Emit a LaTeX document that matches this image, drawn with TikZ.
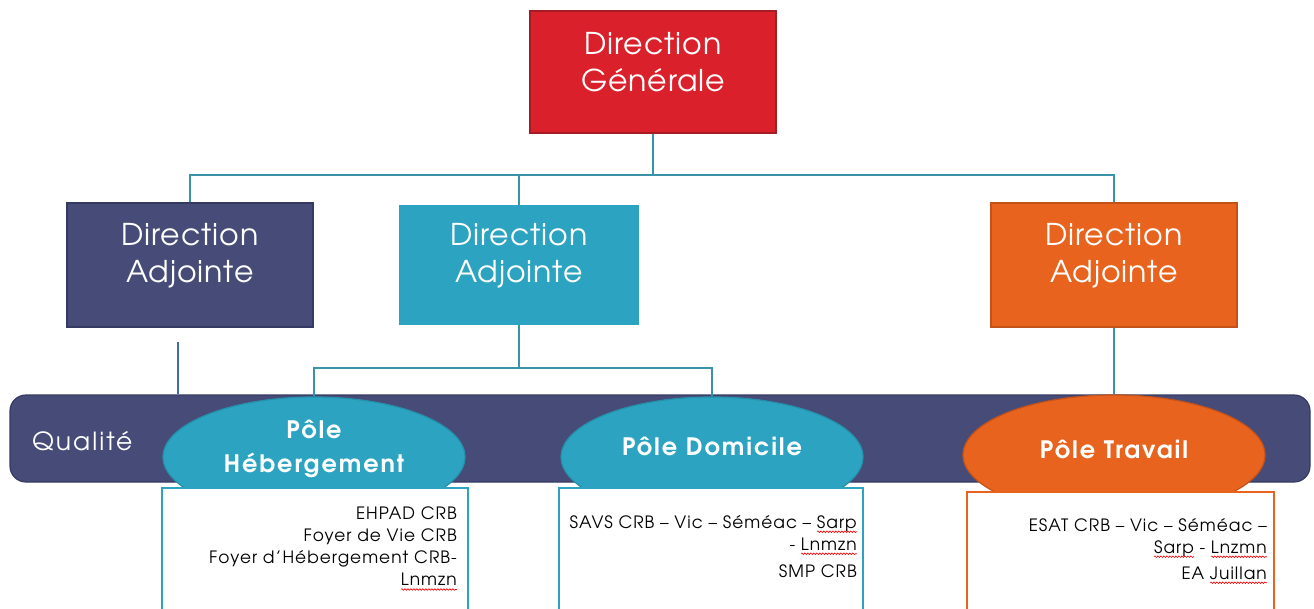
\documentclass[tikz,border=0pt]{standalone}
\usepackage{fontspec}
\setmainfont{texgyreadventor}[Extension=.otf, UprightFont=*-regular, BoldFont=*-bold, ItalicFont=*-italic, BoldItalicFont=*-bolditalic]
\usetikzlibrary{shapes.geometric,decorations.pathmorphing}
\definecolor{dgred}{HTML}{D9202B}
\definecolor{dgredd}{HTML}{A51D24}
\definecolor{slate}{HTML}{474B78}
\definecolor{slated}{HTML}{363A62}
\definecolor{teal}{HTML}{2CA3C0}
\definecolor{teald}{HTML}{2590AA}
\definecolor{orng}{HTML}{E8631E}
\definecolor{orngd}{HTML}{C2521A}
\definecolor{conn}{HTML}{3A93A8}
\definecolor{blueln}{HTML}{3F6DB0}
\newcommand\rw[1]{\setbox0=\hbox{#1}\rlap{\tikz[overlay, baseline=0pt, x=1pt, y=1pt]\draw[red, line width=0.6pt, decorate, decoration={snake, amplitude=0.8pt, segment length=3pt}] (0,-3.5) -- (\the\wd0,-3.5);}\box0\relax}
\tikzset{
  box/.style={rectangle, inner sep=0pt},
  bigtext/.style={text=white, align=center, font=\fontsize{30}{37}\selectfont\addfontfeature{LetterSpace=3}, inner sep=0pt},
  poletext/.style={text=white, align=center, font=\bfseries\fontsize{24}{34}\selectfont\addfontfeature{LetterSpace=8}, inner sep=0pt},
  listtext/.style={text=black, align=right, font=\fontsize{17}{22}\selectfont\addfontfeature{LetterSpace=6}, inner sep=0pt},
  pole/.style={ellipse, inner sep=0pt, minimum width=302pt, minimum height=120pt, line width=1.2pt},
  link/.style={draw=conn, line width=2.8pt},
}
\begin{document}
\begin{tikzpicture}[x=1pt,y=-1pt]
\useasboundingbox (0,0) rectangle (1314,608);
\clip (0,0) rectangle (1314,608);
% top level
\node[box, fill=dgred, draw=dgredd, line width=1.2pt, minimum width=246pt, minimum height=122pt] (dg) at (653,72) {};
\node[bigtext] (dgt) at (653,62) {Direction\\Générale};
\node[box, fill=slate, draw=slated, line width=1.2pt, minimum width=246pt, minimum height=124pt] (da1) at (190,265) {};
\node[bigtext] (da1t) at (190,256) {Direction\\Adjointe};
\node[box, fill=teal, minimum width=240pt, minimum height=120pt] (da2) at (519,265) {};
\node[bigtext] (da2t) at (519,256) {Direction\\Adjointe};
\node[box, fill=orng, draw=orngd, line width=1.2pt, minimum width=246pt, minimum height=124pt] (da3) at (1114,265) {};
\node[bigtext] (da3t) at (1114,256) {Direction\\Adjointe};
% connectors top
\coordinate (hub) at (653,175);
\draw[link] (dg.south) -- (hub);
\draw[link] (da1.north) |- (hub) -| (da3.north);
\draw[link] (da2.north) -- (da2.north |- hub);
% qualite bar
\node[box, fill=slate, draw=slated, line width=1.2pt, rounded corners=16pt, minimum width=1300pt, minimum height=87pt] (bar) at (660,438.5) {};
\node[text=white, font=\fontsize{25}{28}\selectfont\addfontfeature{LetterSpace=8}, inner sep=0pt, anchor=base west] (qt) at (32,450) {Qualité};
\coordinate (q1) at (178,342);
\draw[draw=blueln, line width=2.5pt] (q1) -- (q1 |- bar.north);
% poles
\node[pole, fill=teal, draw=teald] (e1) at (314,457) {};
\node[pole, fill=teal, draw=teald] (e2) at (712,457) {};
\node[pole, fill=orng, draw=orngd] (e3) at (1114,455) {};
\node[poletext] (e1t) at (314,449) {Pôle\\Hébergement};
\node[poletext, anchor=base] (e2t) at (712,455) {Pôle Domicile};
\node[poletext, anchor=base] (e3t) at (1114,458) {Pôle Travail};
% connectors to poles
\coordinate (j2) at (519,368);
\draw[link] (da2.south) -- (j2);
\draw[link] (j2) -| (e1.north);
\draw[link] (j2) -| (e2.north);
\draw[link] (da3.south) -- (e3.north);
% lists
\node[box, fill=white, draw=teal, line width=2pt, anchor=north west, minimum width=306pt, minimum height=140pt] (l1) at (161,487) {};
\node[box, fill=white, draw=teal, line width=2pt, anchor=north west, minimum width=304pt, minimum height=140pt] (l2) at (558,487) {};
\node[box, fill=white, draw=orng, line width=2pt, anchor=north west, minimum width=307pt, minimum height=140pt] (l3) at (966,491) {};
\node[listtext, anchor=north east] (l1t) at (457,507) {EHPAD CRB\\Foyer de Vie CRB\\Foyer d’Hébergement CRB-\\\rw{Lnmzn}};
\node[listtext, anchor=north east] (l2t) at (857,515) {SAVS CRB – Vic – Séméac – \rw{Sarp}\\- \rw{Lnmzn}\\[5pt]SMP CRB};
\node[listtext, anchor=north east] (l3t) at (1267,518) {ESAT CRB – Vic – Séméac –\\\rw{Sarp} - \rw{Lnzmn}\\[4pt]EA \rw{Juillan}};
\end{tikzpicture}
\end{document}
